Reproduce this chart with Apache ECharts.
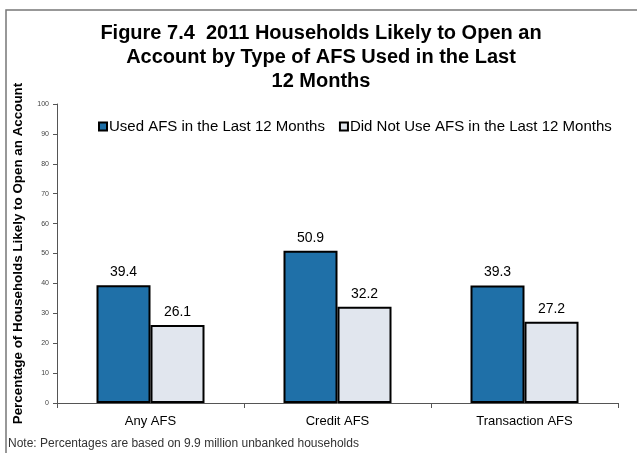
<!DOCTYPE html>
<html>
<head>
<meta charset="utf-8">
<script src="https://cdn.jsdelivr.net/npm/echarts@6/dist/echarts.min.js"></script>
<style>
  html, body { margin: 0; padding: 0; background: #fff; }
  #main { width: 637px; height: 453px; }
</style>
</head>
<body>
<div id="main"></div>
<script>
var categories = ['Any AFS', 'Credit AFS', 'Transaction AFS'];
var usedAfs = [39.4, 50.9, 39.3];
var notUsedAfs = [26.1, 32.2, 27.2];
var yTicks = [0, 10, 20, 30, 40, 50, 60, 70, 80, 90, 100];

var chart = echarts.init(document.getElementById('main'));
var font = 'Liberation Sans, Arial, sans-serif';

var option = {
  animation: false,
  textStyle: { fontFamily: font },
  title: {
    text: 'Figure 7.4  2011 Households Likely to Open an\nAccount by Type of AFS Used in the Last\n12 Months',
    left: 321,
    textAlign: 'center',
    top: 21,
    padding: 0,
    textStyle: { fontSize: 20, fontWeight: 'bold', color: '#000', lineHeight: 24, fontFamily: font }
  },
  legend: {
    top: 114,
    left: 93,
    icon: 'rect',
    itemWidth: 8,
    itemHeight: 8,
    itemGap: 14,
    textStyle: { fontSize: 15, color: '#000', padding: [0, 0, 0, -3] },
    data: ['Used AFS in the Last 12 Months', 'Did Not Use AFS in the Last 12 Months']
  },
  grid: { left: 57, right: 19, top: 104, bottom: 50 },
  xAxis: {
    type: 'category',
    data: categories,
    axisLine: { lineStyle: { color: '#555', width: 1 } },
    axisTick: { show: true, inside: false, length: 5, lineStyle: { color: '#555' } },
    axisLabel: { fontSize: 13, color: '#000', margin: 12 }
  },
  yAxis: {
    type: 'value',
    min: yTicks[0],
    max: yTicks[yTicks.length - 1],
    interval: 10,
    name: 'Percentage of Households Likely to Open an Account',
    nameLocation: 'middle',
    nameGap: 32,
    nameTextStyle: { fontSize: 13.4, fontWeight: 'bold', color: '#000' },
    axisLine: { show: true, lineStyle: { color: '#555' } },
    axisTick: { show: true, length: 4, lineStyle: { color: '#555' } },
    splitLine: { show: false },
    axisLabel: { fontSize: 7, color: '#444', margin: 8 }
  },
  graphic: [{
    type: 'rect',
    shape: { x: 6, y: 10, width: 700, height: 500 },
    style: { fill: 'none', stroke: '#777', lineWidth: 1.5 },
    silent: true
  }, {
    type: 'text',
    left: 8,
    top: 438,
    style: { text: 'Note: Percentages are based on 9.9 million unbanked households', fontSize: 12, fill: '#333', fontFamily: font }
  }],
  series: [{
    name: 'Used AFS in the Last 12 Months',
    type: 'bar',
    data: usedAfs,
    barWidth: 54,
    barGap: '0%',
    itemStyle: { color: '#1F70A8', borderColor: '#000', borderWidth: 2 },
    label: { show: true, position: 'top', fontSize: 14, color: '#000', distance: 6 }
  }, {
    name: 'Did Not Use AFS in the Last 12 Months',
    type: 'bar',
    data: notUsedAfs,
    barWidth: 54,
    itemStyle: { color: '#E1E6EE', borderColor: '#000', borderWidth: 2 },
    label: { show: true, position: 'top', fontSize: 14, color: '#000', distance: 6 }
  }]
};

chart.setOption(option);
</script>
</body>
</html>
